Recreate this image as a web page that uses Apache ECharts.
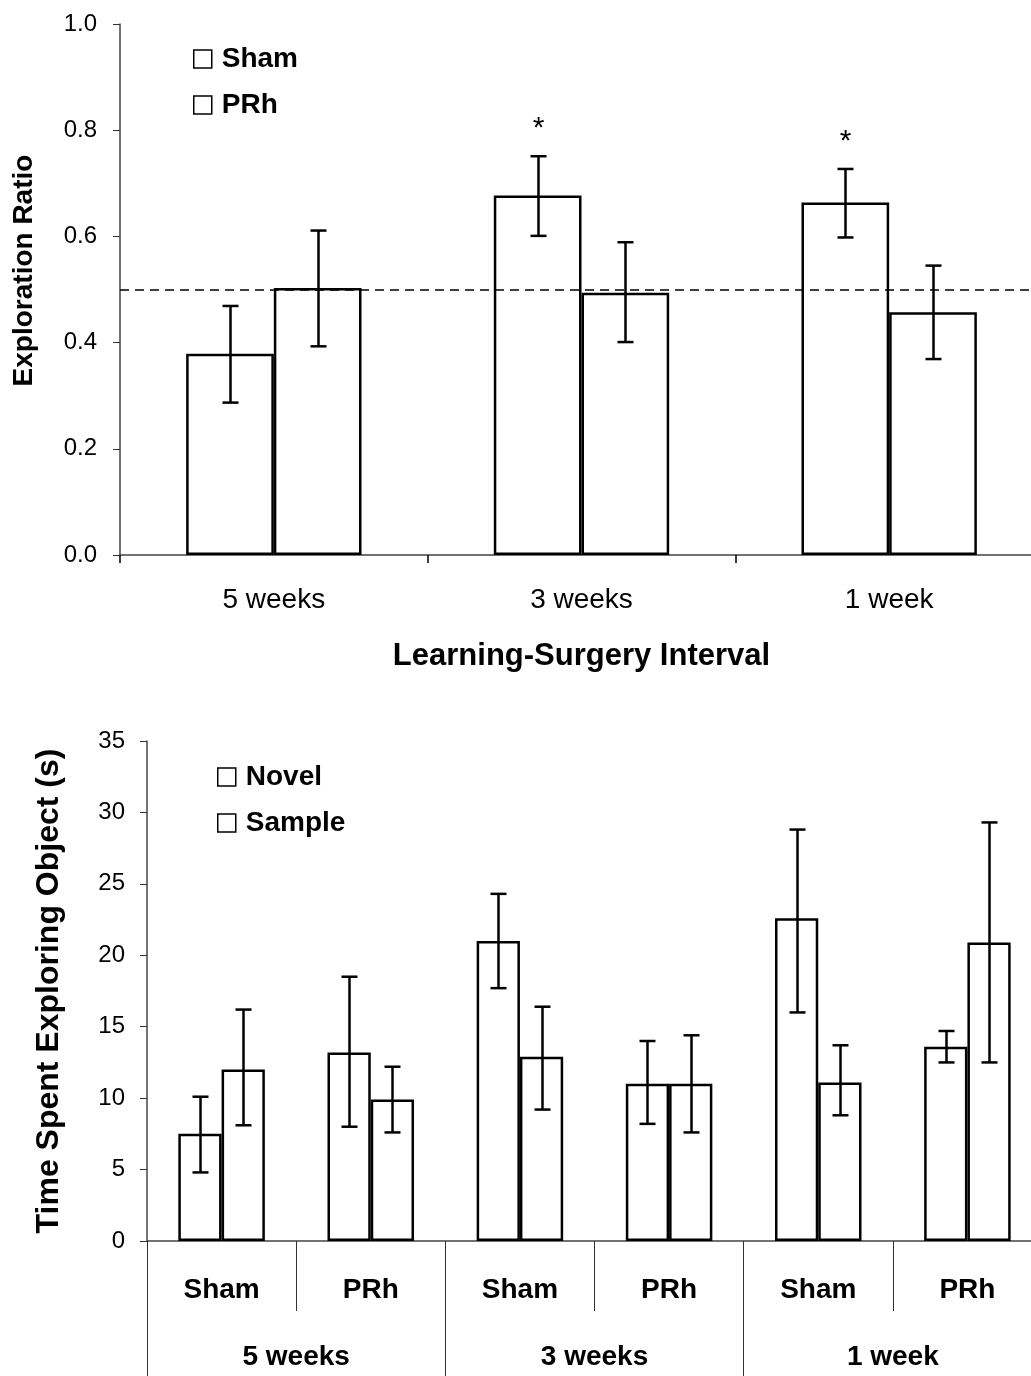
<!DOCTYPE html>
<html>
<head>
<meta charset="utf-8">
<script src="https://cdn.jsdelivr.net/npm/echarts@6/dist/echarts.min.js"></script>
<style>
html,body{margin:0;padding:0;background:#fff;overflow:hidden;}
#chart{width:1043px;height:1376px;}
</style>
</head>
<body>
<div id="chart"></div>
<script>
// ---- Top panel data ----
const intervals = ['5 weeks', '3 weeks', '1 week'];
const shamRatio = [0.379, 0.677, 0.664];
const prhRatio = [0.503, 0.494, 0.457];
const shamRatioLow = [0.287, 0.601, 0.598];
const shamRatioHigh = [0.469, 0.751, 0.727];
const prhRatioLow = [0.393, 0.401, 0.369];
const prhRatioHigh = [0.611, 0.589, 0.545];
const shamSignificant = [false, true, true];
const chanceLevel = 0.5;
const ratioTicks = [0.0, 0.2, 0.4, 0.6, 0.8, 1.0];

// ---- Bottom panel data ----
const groups = ['Sham', 'PRh', 'Sham', 'PRh', 'Sham', 'PRh'];
const novelTime = [7.5, 13.2, 21.0, 11.0, 22.6, 13.6];
const sampleTime = [12.0, 9.9, 12.9, 11.0, 11.1, 20.9];
const novelLow = [4.8, 8.0, 17.7, 8.2, 16.0, 12.5];
const novelHigh = [10.1, 18.5, 24.3, 14.0, 28.8, 14.7];
const sampleLow = [8.1, 7.6, 9.2, 7.6, 8.8, 12.5];
const sampleHigh = [16.2, 12.2, 16.4, 14.4, 13.7, 29.3];
const timeTicks = [0, 5, 10, 15, 20, 25, 30, 35];

const FONT = '"Liberation Sans", Arial, Helvetica, sans-serif';
const GAP_TOP = 0.43;
const GAP_BOT = 0.42;

function errData(low, high, seriesIdx, flags) {
  return low.map((l, i) => [i, l, high[i], seriesIdx, flags && flags[i] ? 1 : 0]);
}

function makeErrRender(gap) {
  return function (params, api) {
    const cat = api.value(0);
    const lo = api.coord([cat, api.value(1)]);
    const hi = api.coord([cat, api.value(2)]);
    const band = api.size([1, 0])[0];
    const bw = band * (1 - gap) / 2;
    const sIdx = api.value(3);
    const x = Math.round(lo[0] + (sIdx === 0 ? -bw / 2 : bw / 2)) + 0.5;
    const cap = 8;
    const style = { stroke: '#000', lineWidth: 2.5, fill: null };
    const children = [
      { type: 'line', shape: { x1: x, y1: lo[1], x2: x, y2: hi[1] }, style: style },
      { type: 'line', shape: { x1: x - cap, y1: lo[1], x2: x + cap, y2: lo[1] }, style: style },
      { type: 'line', shape: { x1: x - cap, y1: hi[1], x2: x + cap, y2: hi[1] }, style: style }
    ];
    if (api.value(4) === 1) {
      children.push({
        type: 'text',
        style: { text: '*', x: x, y: hi[1] - 27, align: 'center', verticalAlign: 'middle',
                 fontSize: 30, fontFamily: FONT, fill: '#000' }
      });
    }
    return { type: 'group', children: children };
  };
}

const barStyle = { color: '#ffffff', borderColor: '#000', borderWidth: 2.5 };
const axisLineStyle = { color: '#444', width: 1.5 };
const legendText = { fontSize: 28, fontWeight: 'bold', fontFamily: FONT, color: '#000', padding: [0, 0, 0, 5] };

const option = {
  animation: false,
  backgroundColor: '#fff',
  textStyle: { fontFamily: FONT, color: '#000' },
  grid: [
    { left: 120, right: 0, top: 24, bottom: 821 },
    { left: 147, right: 1, top: 741, bottom: 135 }
  ],
  legend: [
    { orient: 'vertical', left: 188, top: 40, itemWidth: 18, itemHeight: 18, itemGap: 18,
      data: ['Sham', 'PRh'], icon: 'rect',
      itemStyle: { borderWidth: 1.5, borderColor: '#000', color: '#fff' },
      textStyle: legendText },
    { orient: 'vertical', left: 212, top: 758, itemWidth: 18, itemHeight: 18, itemGap: 18,
      data: ['Novel', 'Sample'], icon: 'rect',
      itemStyle: { borderWidth: 1.5, borderColor: '#000', color: '#fff' },
      textStyle: legendText }
  ],
  xAxis: [
    { type: 'category', gridIndex: 0, data: intervals,
      axisLine: { lineStyle: axisLineStyle },
      axisTick: { show: true, length: 8, lineStyle: { color: '#000', width: 1.5 } },
      axisLabel: { fontSize: 28, color: '#000', margin: 31, fontFamily: FONT },
      name: 'Learning-Surgery Interval', nameLocation: 'middle', nameGap: 86,
      nameTextStyle: { fontSize: 31, fontWeight: 'bold', color: '#000', fontFamily: FONT } },
    { type: 'category', gridIndex: 1, data: groups, position: 'bottom',
      axisLine: { lineStyle: axisLineStyle },
      axisTick: { show: true, length: 70, lineStyle: { color: '#333', width: 1 } },
      axisLabel: { fontSize: 28, fontWeight: 'bold', color: '#000', margin: 35, fontFamily: FONT } },
    { type: 'category', gridIndex: 1, data: intervals, position: 'bottom',
      axisLine: { show: false },
      axisTick: { show: true, length: 140, lineStyle: { color: '#333', width: 1 } },
      axisLabel: { fontSize: 28, fontWeight: 'bold', color: '#000', margin: 102, fontFamily: FONT } }
  ],
  yAxis: [
    { type: 'value', gridIndex: 0, min: ratioTicks[0], max: ratioTicks[ratioTicks.length - 1], interval: 0.2,
      axisLine: { show: true, lineStyle: axisLineStyle },
      axisTick: { show: true, length: 7, lineStyle: { color: '#333' } },
      splitLine: { show: false },
      axisLabel: { fontSize: 24, color: '#000', margin: 23, fontFamily: FONT, formatter: v => v.toFixed(1) },
      name: 'Exploration Ratio', nameLocation: 'middle', nameGap: 82, nameRotate: 90,
      nameTextStyle: { fontSize: 28, fontWeight: 'bold', color: '#000', fontFamily: FONT, padding: [0, 0, 0, 38] } },
    { type: 'value', gridIndex: 1, min: timeTicks[0], max: timeTicks[timeTicks.length - 1], interval: 5,
      axisLine: { show: true, lineStyle: axisLineStyle },
      axisTick: { show: true, length: 7, lineStyle: { color: '#333' } },
      splitLine: { show: false },
      axisLabel: { fontSize: 24, color: '#000', margin: 22, fontFamily: FONT },
      name: 'Time Spent Exploring Object (s)', nameLocation: 'middle', nameGap: 82, nameRotate: 90,
      nameTextStyle: { fontSize: 32, fontWeight: 'bold', color: '#000', fontFamily: FONT } }
  ],
  series: [
    { name: 'Sham', type: 'bar', xAxisIndex: 0, yAxisIndex: 0, data: shamRatio,
      barGap: '0%', barCategoryGap: (GAP_TOP * 100) + '%', itemStyle: barStyle,
      markLine: { silent: true, symbol: 'none', label: { show: false },
        lineStyle: { color: '#000', type: [9, 6], width: 1.5 },
        data: [{ yAxis: chanceLevel }] } },
    { name: 'PRh', type: 'bar', xAxisIndex: 0, yAxisIndex: 0, data: prhRatio,
      barGap: '0%', barCategoryGap: (GAP_TOP * 100) + '%', itemStyle: barStyle },
    { type: 'custom', xAxisIndex: 0, yAxisIndex: 0, renderItem: makeErrRender(GAP_TOP),
      data: errData(shamRatioLow, shamRatioHigh, 0, shamSignificant), z: 5 },
    { type: 'custom', xAxisIndex: 0, yAxisIndex: 0, renderItem: makeErrRender(GAP_TOP),
      data: errData(prhRatioLow, prhRatioHigh, 1), z: 5 },
    { name: 'Novel', type: 'bar', xAxisIndex: 1, yAxisIndex: 1, data: novelTime,
      barGap: '0%', barCategoryGap: (GAP_BOT * 100) + '%', itemStyle: barStyle },
    { name: 'Sample', type: 'bar', xAxisIndex: 1, yAxisIndex: 1, data: sampleTime,
      barGap: '0%', barCategoryGap: (GAP_BOT * 100) + '%', itemStyle: barStyle },
    { type: 'custom', xAxisIndex: 1, yAxisIndex: 1, renderItem: makeErrRender(GAP_BOT),
      data: errData(novelLow, novelHigh, 0), z: 5 },
    { type: 'custom', xAxisIndex: 1, yAxisIndex: 1, renderItem: makeErrRender(GAP_BOT),
      data: errData(sampleLow, sampleHigh, 1), z: 5 }
  ]
};

const chart = echarts.init(document.getElementById('chart'), null, { renderer: 'canvas' });
chart.setOption(option);
</script>
</body>
</html>
